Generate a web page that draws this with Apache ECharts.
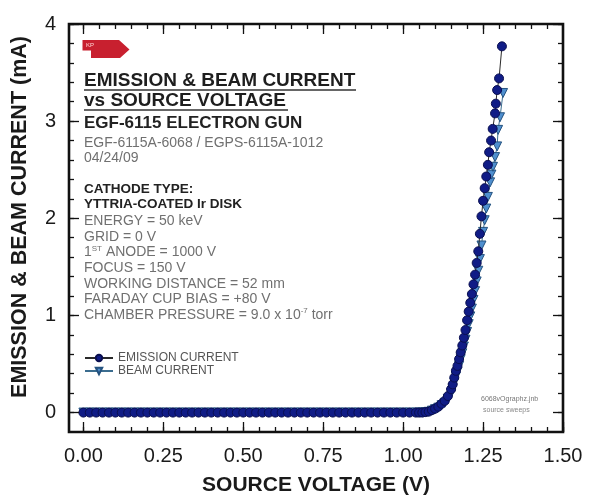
<!DOCTYPE html>
<html>
<head>
<meta charset="utf-8">
<script src="https://cdn.jsdelivr.net/npm/echarts@6/dist/echarts.min.js"></script>
<style>
html,body{margin:0;padding:0;background:#fff;}
#wrap{position:relative;width:589px;height:498px;}
.layer{position:absolute;left:0;top:0;width:589px;height:498px;}
.over{pointer-events:none;}
</style>
</head>
<body>
<div id="wrap"><div id="chart" class="layer"></div><div id="ticksMajor" class="layer over"></div><div id="ticksMinor" class="layer over"></div></div>
<script>
// ---- data ----
const flatVoltage = [0.00,0.02,0.04,0.06,0.08,0.10,0.12,0.14,0.16,0.18,0.20,0.22,0.24,0.26,0.28,0.30,0.32,0.34,0.36,0.38,0.40,0.42,0.44,0.46,0.48,0.50,0.52,0.54,0.56,0.58,0.60,0.62,0.64,0.66,0.68,0.70,0.72,0.74,0.76,0.78,0.80,0.82,0.84,0.86,0.88,0.90,0.92,0.94,0.96,0.98,1.00,1.02,1.04];
const flatCurrent = [0,0,0,0,0,0,0,0,0,0,0,0,0,0,0,0,0,0,0,0,0,0,0,0,0,0,0,0,0,0,0,0,0,0,0,0,0,0,0,0,0,0,0,0,0,0,0,0,0,0,0,0,0];

const emissionVoltage = [1.05,1.06,1.07,1.08,1.09,1.10,1.11,1.12,1.13,1.14,1.15,1.155,1.16,1.165,1.17,1.175,1.18,1.185,1.19,1.195,1.20,1.205,1.21,1.215,1.22,1.225,1.23,1.235,1.24,1.245,1.25,1.255,1.26,1.265,1.269,1.275,1.28,1.2875,1.29,1.294,1.30,1.309];
const emissionCurrent = [0,0,0.005,0.01,0.025,0.04,0.06,0.09,0.12,0.17,0.24,0.29,0.36,0.43,0.48,0.55,0.62,0.69,0.77,0.85,0.95,1.04,1.13,1.22,1.32,1.42,1.54,1.66,1.84,2.02,2.18,2.31,2.43,2.55,2.68,2.80,2.92,3.08,3.18,3.32,3.44,3.77];

const beamVoltage = [1.05,1.06,1.07,1.08,1.09,1.10,1.11,1.12,1.13,1.14,1.15,1.155,1.16,1.165,1.17,1.175,1.18,1.185,1.19,1.195,1.20,1.205,1.21,1.215,1.22,1.225,1.23,1.235,1.24,1.245,1.25,1.255,1.26,1.265,1.272,1.276,1.281,1.2875,1.294,1.297,1.303,1.3125];
const beamCurrent = [0,0,0.004,0.008,0.02,0.035,0.05,0.075,0.10,0.14,0.20,0.25,0.31,0.37,0.42,0.48,0.55,0.61,0.68,0.75,0.83,0.91,0.99,1.07,1.16,1.25,1.35,1.46,1.58,1.72,1.86,1.98,2.10,2.22,2.37,2.45,2.53,2.63,2.74,2.91,3.04,3.29];

const seriesNames = ['EMISSION CURRENT','BEAM CURRENT'];

const xMajorTicks = [0,0.25,0.5,0.75,1,1.25,1.5];
const xMinorTicks = [0,0.05,0.1,0.15,0.2,0.25,0.3,0.35,0.4,0.45,0.5,0.55,0.6,0.65,0.7,0.75,0.8,0.85,0.9,0.95,1,1.05,1.1,1.15,1.2,1.25,1.3,1.35,1.4,1.45,1.5];
const yMajorTicks = [0,1,2,3,4];
const yMinorTicks = [0,0.2,0.4,0.6,0.8,1,1.2,1.4,1.6,1.8,2,2.2,2.4,2.6,2.8,3,3.2,3.4,3.6,3.8,4];

const infoLines = [
  'ENERGY = 50 keV',
  'GRID = 0 V',
  '1{sup|ST} ANODE = 1000 V',
  'FOCUS = 150 V',
  'WORKING DISTANCE = 52 mm',
  'FARADAY CUP BIAS = +80 V',
  'CHAMBER PRESSURE = 9.0 x 10{sup|-7} torr'
];

// ---- build ----
const FONT = '"Liberation Sans", Arial, Helvetica, sans-serif';
function pairs(vs, cs){ return vs.map((v,i)=>[v, cs[i]]); }
const emissionData = pairs(flatVoltage, flatCurrent).concat(pairs(emissionVoltage, emissionCurrent));
const beamData = pairs(flatVoltage, flatCurrent).concat(pairs(beamVoltage, beamCurrent));

const XMIN = -0.045, XMAX = 1.5, YMIN = -0.2, YMAX = 4;
const GRID = {left:69, right:26, top:24, bottom:66};

const graphics = [];
function txt(x, y, text, size, weight, color, rich){
  const st = {text:text, fontSize:size, fontWeight:weight, fontFamily:FONT, fill:color, align:'left', verticalAlign:'middle'};
  if(rich) st.rich = rich;
  graphics.push({type:'text', x:x, y:y, silent:true, z:10, style:st});
}
function hline(x1, x2, y, w, c){
  graphics.push({type:'line', silent:true, z:10, shape:{x1:x1,y1:y,x2:x2,y2:y}, style:{stroke:c, lineWidth:w}});
}
// KP logo
graphics.push({type:'polygon', silent:true, z:10, shape:{points:[[82.5,40],[119,40],[129.5,49.5],[120,58],[91,58],[91,50.5],[82.5,50.5]]}, style:{fill:'#c8202f'}});
txt(86, 45, 'KP', 6, 'normal', '#ffd6d6');
// titles
txt(84, 80.5, 'EMISSION & BEAM CURRENT', 19, 'bold', '#1e1e1e');
hline(84, 356, 90, 1.6, '#333');
txt(84, 100.5, 'vs SOURCE VOLTAGE', 19, 'bold', '#1e1e1e');
hline(84, 288, 110, 1.6, '#333');
txt(84, 123, 'EGF-6115 ELECTRON GUN', 17, 'bold', '#222');
txt(84, 143, 'EGF-6115A-6068 / EGPS-6115A-1012', 14, 'normal', '#707070');
txt(84, 158, '04/24/09', 14, 'normal', '#707070');
txt(84, 189, 'CATHODE TYPE:', 13.5, 'bold', '#222');
txt(84, 204, 'YTTRIA-COATED Ir DISK', 13.5, 'bold', '#222');
const supRich = {sup:{fontSize:8, verticalAlign:'top', fontFamily:FONT, fill:'#707070', lineHeight:16}};
infoLines.forEach((t,i)=>{ txt(84, 221 + i*15.7, t, 14, 'normal', '#707070', supRich); });
// file stamp
txt(481, 399, '6068vOgraphz.jnb', 7, 'normal', '#777');
txt(483, 410, 'source sweeps', 7, 'normal', '#888');
// y axis title
graphics.push({type:'text', x:20, y:217, rotation:Math.PI/2, silent:true, z:10,
  style:{text:'EMISSION & BEAM CURRENT (mA)', fontSize:21.5, fontWeight:'bold', fontFamily:FONT, fill:'#1a1a1a', align:'center', verticalAlign:'middle'}});

// main chart: scales, labels, data
const option = {
  animation:false,
  backgroundColor:'#fff',
  textStyle:{fontFamily:FONT},
  grid:Object.assign({show:false, containLabel:false, outerBoundsMode:'none'}, GRID),
  legend:{
    data:seriesNames, orient:'vertical', left:84, top:352, padding:0,
    itemWidth:28, itemHeight:8, itemGap:1,
    textStyle:{fontSize:12, color:'#555', fontFamily:FONT}
  },
  xAxis:{
    type:'value', position:'bottom', min:XMIN, max:XMAX,
    axisLine:{show:false, onZero:false}, splitLine:{show:false}, axisTick:{show:false},
    axisLabel:{show:true, customValues:xMajorTicks, formatter:v=>Number(v).toFixed(2), fontSize:20, color:'#1a1a1a', fontFamily:FONT, margin:14},
    name:'SOURCE VOLTAGE (V)', nameLocation:'middle', nameGap:43,
    nameTextStyle:{fontSize:21, fontWeight:'bold', color:'#1a1a1a', fontFamily:FONT}
  },
  yAxis:{
    type:'value', position:'left', min:YMIN, max:YMAX,
    axisLine:{show:false, onZero:false}, splitLine:{show:false}, axisTick:{show:false},
    axisLabel:{show:true, customValues:yMajorTicks, formatter:v=>String(Math.round(v)), fontSize:20, color:'#1a1a1a', fontFamily:FONT, margin:13}
  },
  graphic:graphics,
  series:[
    {
      name:seriesNames[0], type:'line', z:3,
      data:emissionData, showSymbol:true, showAllSymbol:true,
      symbol:'circle', symbolSize:9,
      lineStyle:{color:'#2a2a2a', width:1},
      itemStyle:{color:'#101c86', borderColor:'#0a0f50', borderWidth:1}
    },
    {
      name:seriesNames[1], type:'line', z:2,
      data:beamData, showSymbol:true, showAllSymbol:true,
      symbol:'triangle', symbolRotate:180, symbolSize:9,
      lineStyle:{color:'#3b6d8f', width:1},
      itemStyle:{color:'#4f8fcf', borderColor:'#24527f', borderWidth:1}
    }
  ]
};
echarts.init(document.getElementById('chart')).setOption(option);

// overlays: one axis per side each, same scales (frame + major ticks, then minor ticks)
function ax(pos, ticks, len){
  return {type:'value', position:pos, min:XMIN, max:XMAX, axisLine:{show:false,onZero:false}, splitLine:{show:false},
    axisTick:{show:true, inside:true, length:len, customValues:ticks, lineStyle:{color:'#111', width:1.3}}, axisLabel:{show:false}};
}
function yax(pos, ticks, len){
  return {type:'value', position:pos, min:YMIN, max:YMAX, axisLine:{show:false,onZero:false}, splitLine:{show:false},
    axisTick:{show:true, inside:true, length:len, customValues:ticks, lineStyle:{color:'#111', width:1.3}}, axisLabel:{show:false}};
}
function overlay(id, xt, yt, len, frame){
  echarts.init(document.getElementById(id)).setOption({
    animation:false,
    grid:Object.assign({show:frame, borderWidth:2.6, borderColor:'#111', outerBoundsMode:'none'}, GRID),
    xAxis:[ax('bottom', xt, len), ax('top', xt, len)],
    yAxis:[yax('left', yt, len), yax('right', yt, len)],
    series:[{type:'line', data:emissionData, showSymbol:false, silent:true, lineStyle:{opacity:0}}]
  });
}
overlay('ticksMajor', xMajorTicks, yMajorTicks, 10, true);
overlay('ticksMinor', xMinorTicks, yMinorTicks, 5, false);
</script>
</body>
</html>
